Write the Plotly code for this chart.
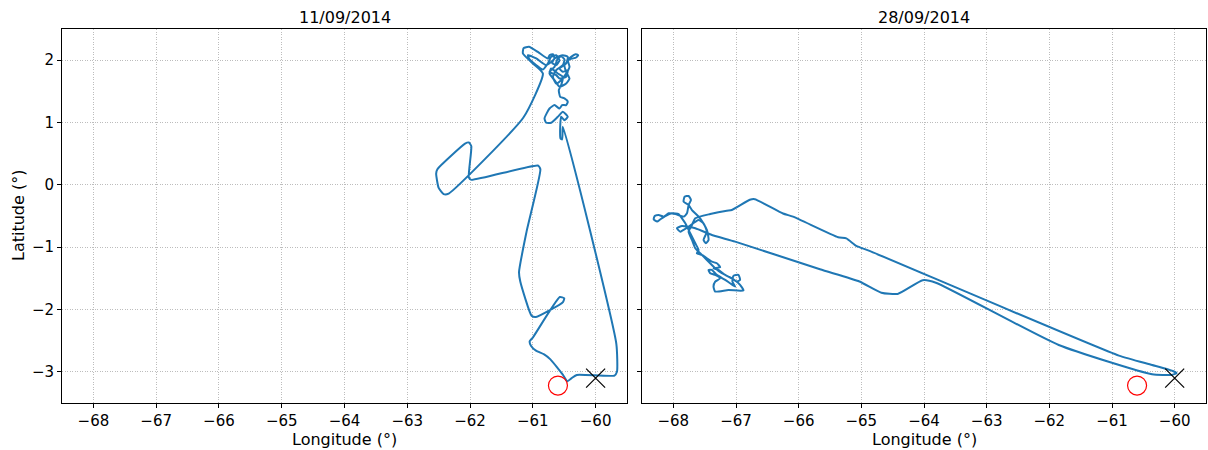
import plotly.graph_objects as go

# Glider track, 11/09/2014
lon_0911 = [-60.45, -60.52, -60.62, -60.72, -60.82, -60.95, -61.03, -61.05, -61.0,
            -60.57, -60.5, -60.52, -60.95, -61.02, -61.2, -61.22, -61.1, -60.88, -60.92,
            -61.98, -62.02, -61.98, -62.02, -62.08, -62.52, -62.54, -62.5, -62.42, -62.34,
            -61.15, -60.84, -60.999, -61.158, -61.147, -61.063, -60.92, -60.761, -60.734,
            -60.681, -60.655, -60.708, -60.787, -60.946, -61.079, -61.052, -60.84,
            -60.761, -60.708, -60.628, -60.575, -60.628, -60.692, -60.655, -60.522, -60.443,
            -60.469, -60.575, -60.522, -60.443, -60.469, -60.575, -60.628,
            -60.734, -60.655, -60.602, -60.549, -60.496, -60.522, -60.628, -60.681, -60.628,
            -60.549, -60.469, -60.416, -60.443, -60.39, -60.321, -60.278, -60.31, -60.416,
            -60.496, -60.469, -60.416, -60.469, -60.575, -60.655, -60.734, -60.708, -60.602,
            -60.522, -60.549, -60.586, -60.564, -60.496, -60.443, -60.469, -60.533, -60.575,
            -60.655, -60.734, -60.814, -60.787, -60.708, -60.602, -60.522, -60.443, -60.496,
            -60.549, -60.564, -60.559, -60.533, -60.522, -59.67, -59.66, -59.7, -60.3,
            -60.38, -60.45]
lat_0911 = [-3.15, -3.05, -2.92, -2.8, -2.72, -2.66, -2.58, -2.51, -2.45,
            -1.8, -1.82, -1.88, -2.12, -2.1, -1.55, -1.4, -0.75, 0.25, 0.31,
            0.08, 0.12, 0.62, 0.68, 0.66, 0.25, 0.18, -0.05, -0.15, -0.14,
            1.08, 1.786, 1.947, 2.107, 2.192, 2.214, 2.133, 2.027, 2.08,
            2.096, 2.027, 1.973, 1.92, 2.027, 2.08, 2.011, 1.85,
            1.947, 2.053, 2.08, 2.0, 1.92, 1.957, 2.027, 2.08, 2.053,
            1.947, 1.866, 1.813, 1.84, 1.733, 1.706, 1.76,
            1.813, 1.893, 2.027, 2.064, 2.011, 1.92, 1.84, 1.733, 1.626,
            1.679, 1.786, 1.893, 2.0, 2.053, 2.096, 2.08, 2.043, 2.011,
            1.92, 1.813, 1.706, 1.626, 1.573, 1.679, 1.786, 1.866, 1.786,
            1.733, 1.599, 1.519, 1.412, 1.386, 1.332, 1.279, 1.279, 1.225,
            1.279, 1.225, 1.065, 0.996, 0.996, 1.092, 1.172, 1.092, 1.038,
            1.092, 0.932, 0.745, 0.729, 0.932, -2.55, -3.0, -3.06, -3.05,
            -3.1, -3.15]

# Glider track, 28/09/2014
lon_2809 = [-60.05, -60.36, -61.85, -63.81, -64.02, -64.42, -64.68, -65.03, -65.66,
            -67.014, -67.385, -67.65, -67.862, -67.942, -67.889, -67.756, -67.597, -67.518,
            -67.465, -67.518, -67.48, -67.438, -67.465, -67.571, -67.703, -67.756, -67.836,
            -67.82, -67.756, -67.719, -67.756, -67.783, -67.836, -67.968, -68.074, -68.154,
            -68.233, -68.297, -68.313, -68.26, -68.207, -68.127, -68.021, -67.915, -67.862,
            -67.809, -67.73, -67.65, -67.597, -67.624, -67.544, -67.385, -67.306, -67.253,
            -67.359, -67.279, -67.173, -67.067, -66.988, -66.935, -66.961, -67.041, -67.057,
            -67.014, -67.094, -67.173, -67.306, -67.385, -67.438, -67.412,
            -67.332, -67.253, -67.332, -67.359, -67.332, -67.12, -66.882, -66.935, -67.041,
            -67.12, -67.226, -67.332, -67.465, -67.571, -67.65, -67.703, -67.756, -67.703,
            -67.65, -67.412, -67.147, -67.067, -66.78, -66.7, -66.25, -66.09, -65.37, -65.24,
            -65.08, -64.87, -60.89, -60.36, -60.02, -59.97, -60.05]
lat_2809 = [-3.05, -3.04, -2.57, -1.57, -1.53, -1.75, -1.73, -1.55, -1.355,
            -0.911, -0.804, -0.697, -0.66, -0.697, -0.751, -0.671, -0.564, -0.617,
            -0.751, -0.884, -0.938, -0.884, -0.724, -0.537, -0.404, -0.323, -0.27,
            -0.19, -0.179, -0.243, -0.323, -0.457, -0.51, -0.468, -0.457, -0.51,
            -0.484, -0.5, -0.553, -0.59, -0.553, -0.5, -0.457, -0.468, -0.537,
            -0.617, -0.777, -0.938, -1.045, -1.098, -1.125, -1.232, -1.258, -1.322,
            -1.338, -1.365, -1.445, -1.499, -1.552, -1.525, -1.445, -1.461, -1.552,
            -1.632, -1.579, -1.525, -1.445, -1.365, -1.365, -1.418,
            -1.445, -1.499, -1.552, -1.632, -1.712, -1.686, -1.696, -1.605, -1.515,
            -1.472, -1.418, -1.338, -1.205, -1.098, -1.018, -0.884, -0.751, -0.644,
            -0.537, -0.468, -0.414, -0.404, -0.24, -0.23, -0.46, -0.51, -0.84, -0.86,
            -0.98, -1.06, -2.74, -2.89, -2.99, -3.02, -3.05]

# Reference points shown on both maps
circle_lon, circle_lat = [-60.6], [-3.22]
cross_lon, cross_lat = [-60.0], [-3.1]

titles = ["11/09/2014", "28/09/2014"]
x_ticks = [-68, -67, -66, -65, -64, -63, -62, -61, -60]
y_ticks = [-3, -2, -1, 0, 1, 2]

FONT = "DejaVu Sans"
LINE = "#1f77b4"

fig = go.Figure()
tracks = [(lon_0911, lat_0911), (lon_2809, lat_2809)]
for i, (lo, la) in enumerate(tracks):
    xa = "x" if i == 0 else "x2"
    ya = "y" if i == 0 else "y2"
    fig.add_trace(go.Scatter(x=lo, y=la, mode="lines", xaxis=xa, yaxis=ya,
                             line=dict(color=LINE, width=2, shape="spline", smoothing=0.5),
                             showlegend=False))
    fig.add_trace(go.Scatter(x=circle_lon, y=circle_lat, mode="markers", xaxis=xa, yaxis=ya,
                             marker=dict(symbol="circle-open", size=19, color="#ff0000",
                                         line=dict(width=1.2, color="#ff0000")),
                             showlegend=False))
    fig.add_trace(go.Scatter(x=cross_lon, y=cross_lat, mode="markers", xaxis=xa, yaxis=ya,
                             marker=dict(symbol="x-thin", size=19, color="black",
                                         line=dict(width=1.2, color="black")),
                             showlegend=False))

axis_common = dict(
    showgrid=True, gridcolor="#bdbdbd", griddash="1px,1.5px", gridwidth=0.8,
    showline=True, linecolor="black", linewidth=1, mirror=True,
    ticks="outside", ticklen=4, tickwidth=1, tickcolor="black",
    zeroline=False, tickfont=dict(family=FONT, size=15, color="black"),
)

y0, y1 = 1 - 403 / 450, 1 - 29 / 450
fig.update_layout(
    width=1208, height=450,
    margin=dict(l=0, r=0, t=0, b=0),
    paper_bgcolor="white", plot_bgcolor="white",
    xaxis=dict(domain=[62 / 1208, 627 / 1208], range=[-68.5, -59.5],
               tickvals=x_ticks, **axis_common),
    xaxis2=dict(domain=[642 / 1208, 1206 / 1208], range=[-68.5, -59.5],
                tickvals=x_ticks, anchor="y2", **axis_common),
    yaxis=dict(domain=[y0, y1], range=[-3.5, 2.5], tickvals=y_ticks, **axis_common),
    yaxis2=dict(domain=[y0, y1], range=[-3.5, 2.5], tickvals=y_ticks, anchor="x2",
                matches="y", showticklabels=False, **axis_common),
)

annotations = []
centers = [(62 + 627) / 2 / 1208, (642 + 1206) / 2 / 1208]
for c, t in zip(centers, titles):
    annotations.append(dict(text=t, x=c, y=1 - 17 / 450, xref="paper", yref="paper",
                            showarrow=False, font=dict(family=FONT, size=16, color="black"),
                            xanchor="center", yanchor="middle"))
    annotations.append(dict(text="Longitude (°)", x=c, y=0, xref="paper",
                            yref="paper", showarrow=False, borderpad=0,
                            font=dict(family=FONT, size=16, color="black"),
                            xanchor="center", yanchor="bottom"))
annotations.append(dict(text="Latitude (°)", x=18 / 1208, y=1 - 216 / 450, xref="paper",
                        yref="paper", showarrow=False, textangle=-90,
                        font=dict(family=FONT, size=16, color="black"),
                        xanchor="center", yanchor="middle"))
fig.update_layout(annotations=annotations)

fig.write_html("out.html")
